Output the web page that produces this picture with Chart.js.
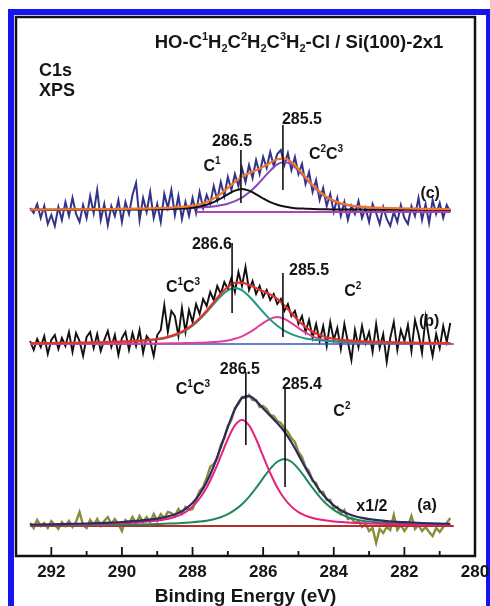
<!DOCTYPE html>
<html><head><meta charset="utf-8">
<script src="https://cdn.jsdelivr.net/npm/chart.js@4.4.1/dist/chart.umd.min.js"></script>
<style>html,body{margin:0;padding:0;background:#fff;}canvas{display:block;}</style>
</head><body>
<canvas id="c" width="490" height="606"></canvas>
<script>
// ---------- data (binding energy in eV, intensity in arbitrary units above each trace's baseline) ----------
const energyRaw = [292.6,292.5,292.4,292.3,292.2,292.1,292.0,291.9,291.8,291.7,291.6,291.5,291.4,291.3,291.2,291.1,291.0,290.9,290.8,290.7,290.6,290.5,290.4,290.3,290.2,290.1,290.0,289.9,289.8,289.7,289.6,289.5,289.4,289.3,289.2,289.1,289.0,288.9,288.8,288.7,288.6,288.5,288.4,288.3,288.2,288.1,288.0,287.9,287.8,287.7,287.6,287.5,287.4,287.3,287.2,287.1,287.0,286.9,286.8,286.7,286.6,286.5,286.4,286.3,286.2,286.1,286.0,285.9,285.8,285.7,285.6,285.5,285.4,285.3,285.2,285.1,285.0,284.9,284.8,284.7,284.6,284.5,284.4,284.3,284.2,284.1,284.0,283.9,283.8,283.7,283.6,283.5,283.4,283.3,283.2,283.1,283.0,282.9,282.8,282.7,282.6,282.5,282.4,282.3,282.2,282.1,282.0,281.9,281.8,281.7,281.6,281.5,281.4,281.3,281.2,281.1,281.0,280.9,280.8,280.7];

const rawA = [3,-2,6,0,3,-2,5,1,-3,4, 0,5,-1,4,14,1,-2,6,1,7, 0,5,9,2,7,2,-5,6,3,9, 2,10,4,9,4,12,5,12,8,14, 13,10,17,12,19,16,17,26,35,39, 48,59,62,68,81,88,100,106,118,122, 129,128,131,126,126,119,120,117,111,110, 105,103,98,94,88,84,74,69,59,55, 45,43,34,34,26,26,18,19,12,16, 7,8,3,5,-1,2,-5,-2,-17,-3, -7,-1,-4,11,-4,1,-5,0,10,-3, 1,-5,-1,-6,-10,-2,-6,-1,3,8];
const rawB = [3,-6,5,-3,8,-10,4,9,-5,6, -2,12,-8,11,3,-12,7,12,-4,10, -7,4,13,-3,9,-11,6,12,-6,11, -2,14,-9,8,3,-12,9,14,39,12, 33,28,8,36,12,34,22,40,30,45, 38,52,44,58,50,62,55,66,52,72, 58,77,54,63,50,58,47,54,44,50, 40,45,33,40,28,33,20,28,12,24, 6,20,3,18,-2,22,4,16,-5,20, 2,-16,14,-3,18,1,12,-8,20,-4, 10,-18,6,22,-6,14,3,19,-7,24, 10,-9,27,6,-12,10,-4,18,2,21];
const rawC = [2,-3,6,-8,4,-14,-5,-16,3,-10, 8,-6,12,-4,-12,5,-8,14,-3,20, -10,6,-15,4,-6,10,-12,8,-4,15, 27,-10,12,-2,18,-8,6,-12,16,2, 20,-5,14,-9,8,-6,12,-3,18,2, 15,6,24,10,28,14,33,20,36,24, 42,28,45,32,50,36,53,42,58,44, 56,60,45,57,40,53,36,46,26,38, 18,30,10,22,4,16,-2,12,-6,8, -10,4,-4,9,-8,2,-12,6,-3,-14, 3,-9,-16,-2,-12,5,-8,-14,4,-6, 12,-10,6,-13,10,-4,7,-8,5,-2];

const energyFit = [292.6,292.0,291.5,291.0,290.5,290.0,289.5,289.0,288.8,288.6,288.4,288.2,288.0,287.8,287.6,287.4,287.2,287.0,286.8,286.6,286.4,286.2,286.0,285.8,285.6,285.4,285.2,285.0,284.8,284.6,284.4,284.2,284.0,283.8,283.6,283.4,283.2,283.0,282.5,282.0,281.5,281.0,280.7];

// (a)
const fitA_C1C3 = [0.9,1.1,1.4,1.7,2.1,2.8,3.8,5.4, 6.5,8.0,10.3,13.9,19.4,27.5,38.6,53.0,69.8,87.0,100.6,106, 100.6,87.0,69.8,53.0,38.6,27.5,19.4,13.9,10.3,8.0,6.5,5.4, 4.6,4.0,3.5,3.1,2.8,2.5, 1.9,1.6,1.3,1.1,1.0];
const fitA_C2 = [0.5,0.6,0.7,0.8,1.0,1.2,1.5,2.0, 2.2,2.5,2.8,3.2,3.7,4.4,5.3,6.7,8.8,11.8,16.1,21.8, 29.2,38.1,47.8,57.2,64.3,67,64.3,57.2,47.8,38.1,29.2,21.8, 16.1,11.8,8.8,6.7,5.3,4.4, 3.0,2.2,1.7,1.3,1.2];
const envA = [1.4,1.7,2.1,2.5,3.1,4.0,5.3,7.4, 8.7,10.5,13.1,17.1,23.1,31.9,43.9,59.7,78.6,98.8,116.7,127.8, 129.8,125.1,117.6,110.2,102.9,94.5,83.7,71.1,58.1,46.1,35.7,27.2, 20.7,15.8,12.3,9.8,8.1,6.9, 4.9,3.8,3.0,2.4,2.2];
// (b)
const fitB_C1C3 = [0.7,0.8,1.0,1.2,1.6,2.1,2.9,4.5, 5.6,7.4,9.9,13.4,18.2,24.4,31.8,40.0,47.8,53.7,56,53.7, 47.8,40.0,31.8,24.4,18.2,13.4,9.9,7.4,5.6,4.5,3.7,3.1, 2.7,2.3,2.1,1.8,1.6,1.5, 1.2,1.0,0.8,0.7,0.6];
const fitB_C2 = [0.1,0.2,0.2,0.2,0.3,0.3,0.4,0.5, 0.6,0.7,0.8,0.9,1.1,1.3,1.5,1.9,2.5,3.5,5.2,7.7, 11.3,15.9,20.9,25.2,27.0,25.2,20.9,15.9,11.3,7.7,5.2,3.5, 2.5,1.9,1.5,1.3,1.1,0.9, 0.7,0.5,0.4,0.3,0.3];
const envB = [0.8,1.0,1.2,1.4,1.9,2.4,3.3,5.0, 6.2,8.1,10.7,14.3,19.3,25.7,33.3,41.9,50.3,57.2,61.2,61.4, 59.1,55.9,52.7,49.6,45.2,38.6,30.8,23.3,16.9,12.2,8.9,6.6, 5.2,4.2,3.6,3.1,2.7,2.4, 1.9,1.5,1.2,1.0,0.9];
// (c)
const fitC_C1 = [0.1,0.2,0.2,0.2,0.3,0.4,0.5,0.7, 0.8,1.0,1.3,1.6,2.3,3.4,5.2,7.8,11.5,15.7,19.4,21, 19.4,15.7,11.5,7.8,5.2,3.4,2.3,1.6,1.3,1.0,0.8,0.7, 0.6,0.5,0.5,0.4,0.4,0.3, 0.3,0.2,0.2,0.1,0.1];
const fitC_C2C3 = [0.3,0.3,0.4,0.5,0.6,0.7,0.9,1.1, 1.3,1.4,1.6,1.8,2.1,2.4,2.9,3.6,4.7,6.3,8.8,12.4, 17.5,24.0,31.6,39.4,45.6,48.0,45.6,39.4,31.6,24.0,17.5,12.4, 8.8,6.3,4.7,3.6,2.9,2.4, 1.7,1.3,1.0,0.8,0.7];
const envC = [0.4,0.5,0.6,0.7,0.9,1.1,1.4,1.8, 2.1,2.4,2.9,3.4,4.4,5.8,8.1,11.4,16.2,22.0,28.2,33.4, 36.9,39.7,43.1,47.2,50.8,51.4,47.9,41.0,32.9,25.0,18.3,13.1, 9.4,6.8,5.2,4.0,3.3,2.7, 2.0,1.5,1.2,0.9,0.8];

// baselines
const baseEnergyA = [292.6, 280.6];
const baseA = [0, 0];
const baseEnergyB = [292.6, 280.6];
const baseB = [0, 0];
const baseEnergyC = [287.9, 280.7];
const baseC = [-2, -2];

// axis ticks
const majorTicks = [292, 290, 288, 286, 284, 282, 280];
const minorTicks = [291, 289, 287, 285, 283, 281];

// peak marker lines (energy, top, bottom in trace units)
const markers = [
  {axis:'yC', x:286.63, y1:60, y2:7},
  {axis:'yC', x:285.44, y1:85, y2:20},
  {axis:'yB', x:286.88, y1:101, y2:31},
  {axis:'yB', x:285.44, y1:71, y2:7},
  {axis:'yA', x:286.49, y1:154, y2:81},
  {axis:'yA', x:285.38, y1:139, y2:39}
];

// text annotations
const notes = [
  {axis:'yC', x:284.90, y:92, parts:['285.5']},
  {axis:'yC', x:286.88, y:70, parts:['286.5']},
  {axis:'yC', x:287.45, y:45, parts:['C',['1','sup']]},
  {axis:'yC', x:284.22, y:57, parts:['C',['2','sup'],'C',['3','sup']]},
  {axis:'yC', x:281.27, y:18, parts:['(c)']},
  {axis:'yB', x:287.45, y:101, parts:['286.6']},
  {axis:'yB', x:284.70, y:75, parts:['285.5']},
  {axis:'yB', x:288.27, y:58, parts:['C',['1','sup'],'C',['3','sup']]},
  {axis:'yB', x:283.46, y:54, parts:['C',['2','sup']]},
  {axis:'yB', x:281.30, y:24, parts:['(b)']},
  {axis:'yA', x:286.66, y:158, parts:['286.5']},
  {axis:'yA', x:284.90, y:143, parts:['285.4']},
  {axis:'yA', x:287.99, y:138, parts:['C',['1','sup'],'C',['3','sup']]},
  {axis:'yA', x:283.77, y:116, parts:['C',['2','sup']]},
  {axis:'yA', x:282.92, y:21, parts:['x1/2']},
  {axis:'yA', x:281.36, y:22, parts:['(a)']}
];
const titleParts = ['HO-C',['1','sup'],'H',['2','sub'],'C',['2','sup'],'H',['2','sub'],'C',['3','sup'],'H',['2','sub'],'-Cl / Si(100)-2x1'];

// ---------- helpers ----------
const FONT = '"Liberation Sans", Arial, sans-serif';
const pts = (xs, ys) => xs.map((x, i) => ({x, y: ys[i]}));
function line(label, xs, ys, axis, color, width, order, smooth) {
  return {label, data: pts(xs, ys), yAxisID: axis, borderColor: color, borderWidth: width,
    pointRadius: 0, fill: false, order, tension: smooth ? 0.4 : 0,
    cubicInterpolationMode: smooth ? 'monotone' : 'default'};
}
function drawRich(ctx, parts, cx, cy, size, align) {
  const small = Math.round(size * 0.6);
  let w = 0;
  const segs = parts.map(p => {
    const t = typeof p === 'string' ? p : p[0];
    const m = typeof p === 'string' ? '' : p[1];
    const fs = m ? small : size;
    ctx.font = `bold ${fs}px ${FONT}`;
    const sw = ctx.measureText(t).width;
    w += sw;
    return {t, m, fs, sw};
  });
  let x = align === 'left' ? cx : cx - w / 2;
  const base = cy + size * 0.36;
  ctx.textBaseline = 'alphabetic';
  ctx.textAlign = 'left';
  for (const s of segs) {
    ctx.font = `bold ${s.fs}px ${FONT}`;
    let y = base;
    if (s.m === 'sup') y = base - size * 0.4;
    if (s.m === 'sub') y = base + size * 0.22;
    ctx.fillText(s.t, x, y);
    x += s.sw;
  }
}

const decor = {
  id: 'decor',
  beforeDraw(chart) {
    const ctx = chart.ctx;
    ctx.save();
    ctx.fillStyle = '#ffffff';
    ctx.fillRect(0, 0, chart.width, chart.height);
    ctx.fillStyle = '#1414f0';
    ctx.fillRect(8, 9, 482, 597);
    ctx.fillStyle = '#ffffff';
    ctx.fillRect(14, 15, 472, 591);
    ctx.restore();
  },
  afterDatasetsDraw(chart) {
    const ctx = chart.ctx, a = chart.chartArea, xs = chart.scales.x;
    ctx.save();
    ctx.strokeStyle = '#111';
    ctx.lineWidth = 2.5;
    ctx.strokeRect(a.left, a.top, a.right - a.left, a.bottom - a.top);
    ctx.lineWidth = 1.8;
    ctx.beginPath();
    majorTicks.forEach(v => { const p = xs.getPixelForValue(v); ctx.moveTo(p, a.bottom); ctx.lineTo(p, a.bottom - 9); });
    minorTicks.forEach(v => { const p = xs.getPixelForValue(v); ctx.moveTo(p, a.bottom); ctx.lineTo(p, a.bottom - 5); });
    ctx.stroke();
    ctx.lineWidth = 1.6;
    ctx.beginPath();
    markers.forEach(m => {
      const ys = chart.scales[m.axis];
      const px = xs.getPixelForValue(m.x);
      ctx.moveTo(px, ys.getPixelForValue(m.y1));
      ctx.lineTo(px, ys.getPixelForValue(m.y2));
    });
    ctx.stroke();
    ctx.fillStyle = '#151515';
    notes.forEach(n => {
      const ys = chart.scales[n.axis];
      drawRich(ctx, n.parts, xs.getPixelForValue(n.x), ys.getPixelForValue(n.y), 16);
    });
    drawRich(ctx, titleParts, 299, 41, 18.5);
    drawRich(ctx, ['C1s'], 39, 70, 18, 'left');
    drawRich(ctx, ['XPS'], 39, 90, 18, 'left');
    ctx.restore();
  }
};

new Chart(document.getElementById('c'), {
  type: 'line',
  data: {
    datasets: [
      line('(c) envelope', energyFit, envC, 'yC', '#f07828', 2.2, 0, true),
      line('(c) C1', energyFit, fitC_C1, 'yC', '#111111', 2, 0, true),
      line('(c) C2C3', energyFit, fitC_C2C3, 'yC', '#8448bc', 2, 1, true),
      line('(c) baseline', baseEnergyC, baseC, 'yC', '#b040b8', 2, 1, false),
      line('(c) raw', energyRaw, rawC, 'yC', '#33338c', 2, 3, false),
      line('(b) envelope', energyFit, envB, 'yB', '#e8302c', 2.2, 0, true),
      line('(b) C1C3', energyFit, fitB_C1C3, 'yB', '#1f9a7c', 2, 1, true),
      line('(b) C2', energyFit, fitB_C2, 'yB', '#e23c9c', 2, 1, true),
      line('(b) baseline', baseEnergyB, baseB, 'yB', '#3454c4', 1.5, 2, false),
      line('(b) raw', energyRaw, rawB, 'yB', '#111111', 1.9, 3, false),
      line('(a) envelope', energyFit, envA, 'yA', '#2b2b60', 2.2, 0, true),
      line('(a) C1C3', energyFit, fitA_C1C3, 'yA', '#e6207c', 2, 1, true),
      line('(a) C2', energyFit, fitA_C2, 'yA', '#1e8a5c', 2, 1, true),
      line('(a) baseline', baseEnergyA, baseA, 'yA', '#b03030', 1.8, 2, false),
      line('(a) raw', energyRaw, rawA, 'yA', '#8a8c3a', 2.4, 3, false)
    ]
  },
  options: {
    responsive: false,
    animation: false,
    devicePixelRatio: 1,
    layout: {padding: {left: 16, right: 15, top: 17, bottom: 0}},
    plugins: {legend: {display: false}, tooltip: {enabled: false}},
    scales: {
      x: {
        type: 'linear', min: 280, max: 293, reverse: true,
        afterBuildTicks: s => { s.ticks = majorTicks.map(v => ({value: v})); },
        grid: {display: false, drawTicks: false},
        border: {display: false},
        ticks: {font: {family: FONT, size: 17, weight: 'bold'}, color: '#151515', padding: 6,
          maxRotation: 0, autoSkip: false, callback: v => String(v)},
        title: {display: true, text: 'Binding Energy (eV)', color: '#151515',
          font: {family: FONT, size: 19, weight: 'bold', lineHeight: 1.0}, padding: {top: 0, bottom: 0}},
        afterFit: s => { s.height = 50; s.paddingLeft = 0; s.paddingRight = 0; }
      },
      yA: {type: 'linear', display: false, min: -30, max: 509},
      yB: {type: 'linear', display: false, min: -212, max: 327},
      yC: {type: 'linear', display: false, min: -346, max: 193}
    }
  },
  plugins: [decor]
});
</script>
</body></html>
